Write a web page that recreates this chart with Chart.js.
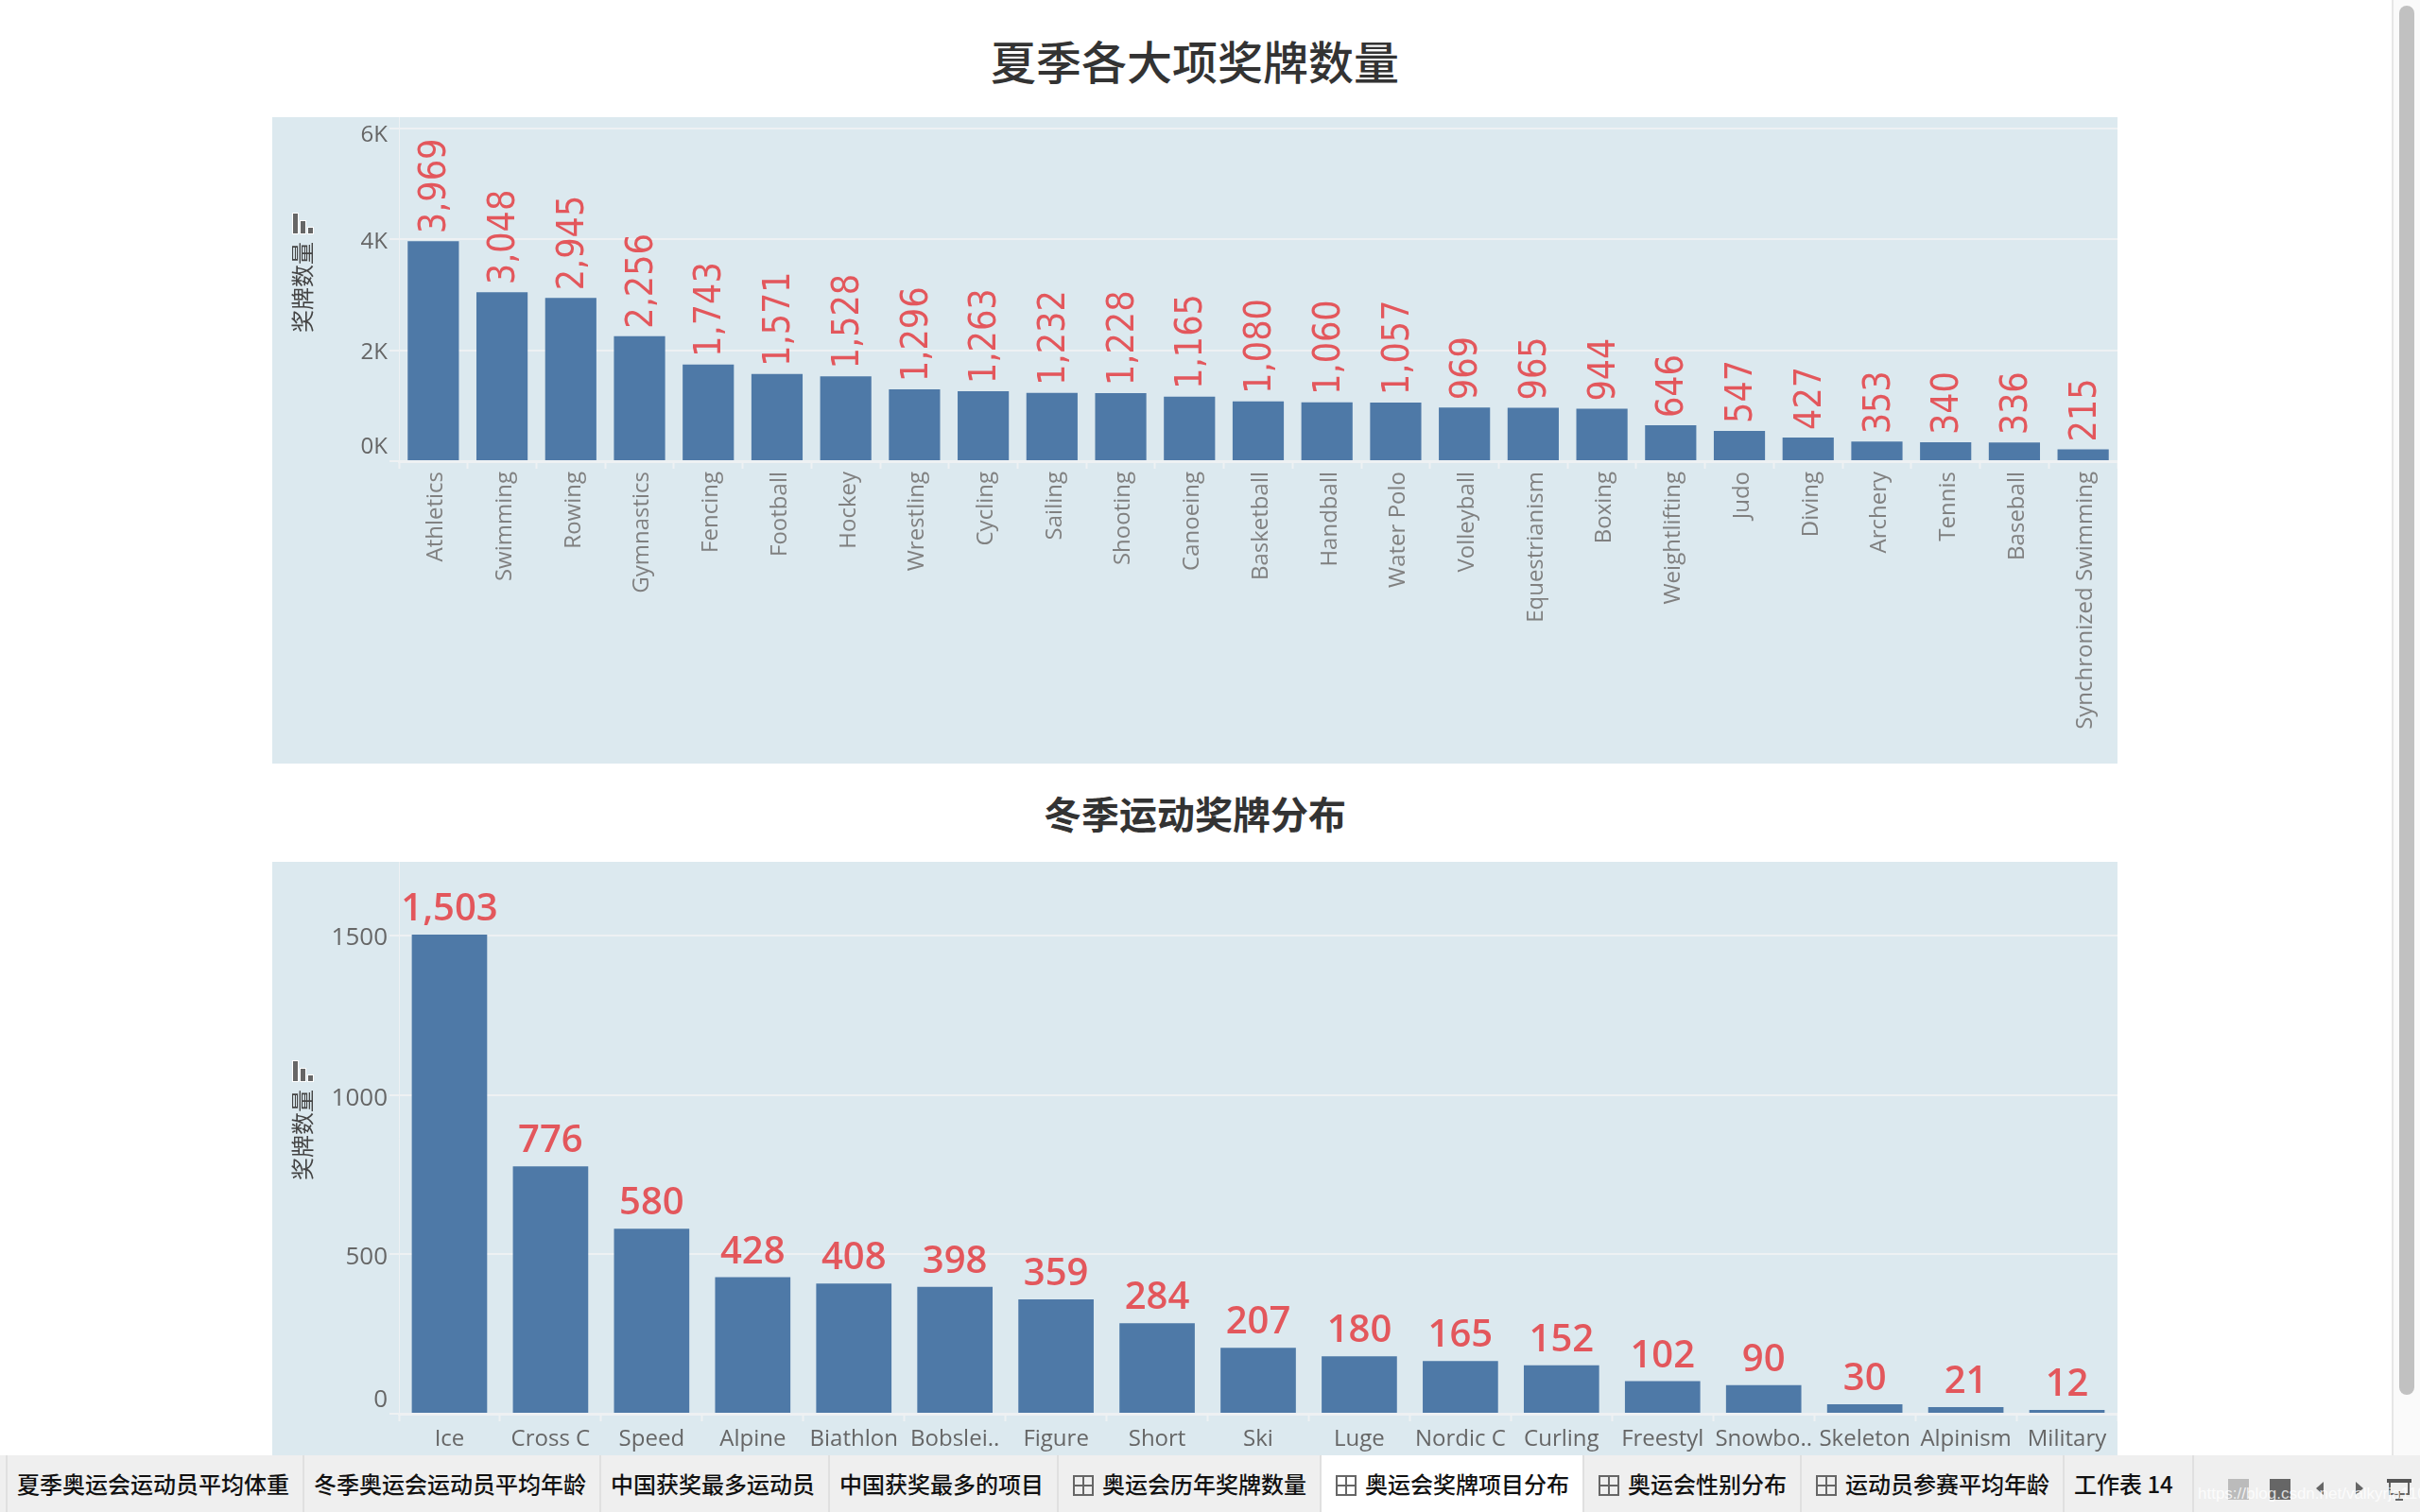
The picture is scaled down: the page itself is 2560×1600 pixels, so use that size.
<!DOCTYPE html>
<html lang="zh-CN">
<head>
<meta charset="utf-8">
<title>奥运会奖牌项目分布</title>
<script src="https://cdn.jsdelivr.net/npm/chart.js@4"></script>
<style>
  html, body { margin: 0; height: 100%; background: #fff; overflow: hidden; }
  body { position: relative; width: 2560px; height: 1600px; font-family: "Noto Sans CJK SC", "Noto Sans", sans-serif; }
  .panel { position: absolute; left: 288px; width: 1952px; background: #dce9ef; }
  .panel canvas { display: block; }
  #summer { top: 124px; height: 684px; }
  #winter { top: 912px; height: 628px; }
  h1, h2 { position: absolute; margin: 0; left: 288px; width: 1952px; text-align: center; color: #333; white-space: nowrap; }
  h1 { top: 28px; font-size: 48px; line-height: 70px; font-weight: 500; }
  h2 { top: 830px; font-size: 40px; line-height: 60px; font-weight: 700; }
  #scroll { position: absolute; left: 2530px; top: 0; width: 30px; height: 1540px; background: #fafafa; border-left: 2px solid #e6e6e6; box-sizing: border-box; }
  #thumb { position: absolute; left: 6px; top: 6px; width: 16px; height: 1470px; border-radius: 8px; background: #c1c1c1; }
  #tabs { position: absolute; left: 0; top: 1540px; width: 2560px; height: 60px; background: #efefef; }
  .tab { position: absolute; top: 0; height: 60px; line-height: 60px; box-sizing: border-box; border-left: 2px solid #e0e0e0; font-size: 24px; font-weight: 500; color: #111; white-space: nowrap; }
  .tab.active { background: #fff; }
  .tab i { display: inline-block; width: 22px; height: 22px; margin-right: 9px; vertical-align: -3px; box-sizing: border-box; border: 2px solid #666;
    background: linear-gradient(#666, #666) center/2px 100% no-repeat, linear-gradient(#666, #666) center/100% 2px no-repeat; }
  .nav { position: absolute; }
  #mark { position: absolute; left: 2325px; top: 1570px; font-size: 17px; line-height: 22px; color: rgba(255,255,255,.8); font-family: "Liberation Sans", sans-serif; white-space: nowrap; }
</style>
</head>
<body>
<h1>夏季各大项奖牌数量</h1>
<div class="panel" id="summer"><canvas id="summerChart" width="1952" height="684"></canvas></div>
<h2>冬季运动奖牌分布</h2>
<div class="panel" id="winter"><canvas id="winterChart" width="1952" height="628"></canvas></div>
<div id="scroll"><div id="thumb"></div></div>
<div id="tabs"></div>
<script>
const summerSports = ['Athletics', 'Swimming', 'Rowing', 'Gymnastics', 'Fencing', 'Football', 'Hockey', 'Wrestling', 'Cycling', 'Sailing', 'Shooting', 'Canoeing', 'Basketball', 'Handball', 'Water Polo', 'Volleyball', 'Equestrianism', 'Boxing', 'Weightlifting', 'Judo', 'Diving', 'Archery', 'Tennis', 'Baseball', 'Synchronized Swimming']
const summerMedals = [3969, 3048, 2945, 2256, 1743, 1571, 1528, 1296, 1263, 1232, 1228, 1165, 1080, 1060, 1057, 969, 965, 944, 646, 547, 427, 353, 340, 336, 215]
const summerTicks = [0, 2000, 4000, 6000]
const winterSports = ['Ice', 'Cross C', 'Speed', 'Alpine', 'Biathlon', 'Bobslei..', 'Figure', 'Short', 'Ski', 'Luge', 'Nordic C', 'Curling', 'Freestyl', 'Snowbo..', 'Skeleton', 'Alpinism', 'Military']
const winterMedals = [1503, 776, 580, 428, 408, 398, 359, 284, 207, 180, 165, 152, 102, 90, 30, 21, 12]
const winterTicks = [0, 500, 1000, 1500]
const tabNames = ['夏季奥运会运动员平均体重', '冬季奥运会运动员平均年龄', '中国获奖最多运动员', '中国获奖最多的项目', '奥运会历年奖牌数量', '奥运会奖牌项目分布', '奥运会性别分布', '运动员参赛平均年龄', '工作表 14']
const tabStarts = [6, 320, 634, 876, 1118, 1396, 1674, 1904, 2182]
const gridTabs = [4, 5, 6, 7]

const FONT = '"Open Sans", "Noto Sans", sans-serif'
const BLUE = '#4e79a7'
const RED = '#e3575c'
const GRID = '#eef1f3'

// value labels over the bars, there is no datalabels build available offline
const barLabels = {
  id: 'barLabels',
  afterDatasetsDraw(chart, args, opts) {
    const ctx = chart.ctx
    const values = chart.data.datasets[0].data
    ctx.save()
    ctx.fillStyle = RED
    ctx.font = opts.font
    chart.getDatasetMeta(0).data.forEach((bar, i) => {
      const text = values[i].toLocaleString('en-US')
      ctx.save()
      if (opts.vertical) {
        ctx.translate(bar.x + 3, bar.y - opts.gap)
        ctx.rotate(-Math.PI / 2)
        ctx.scale(0.9, 1)
        ctx.textAlign = 'left'
        ctx.textBaseline = 'middle'
      } else {
        ctx.translate(bar.x, bar.y - opts.gap)
        ctx.textAlign = 'center'
        ctx.textBaseline = 'alphabetic'
      }
      ctx.fillText(text, 0, 0)
      ctx.restore()
    })
    ctx.restore()
  }
}

// tableau pushes the first and last value label inside the pane
const edgeTicks = {
  id: 'edgeTicks',
  beforeDraw(chart, args, opts) {
    chart.scales.y.getLabelItems().forEach(item => {
      const shift = opts.shift[item.label]
      if (shift) item.options.translation[1] = item.options.translation[1] + shift
    })
    chart.scales.x.getLabelItems().forEach(item => {
      item.options.translation[0] = item.options.translation[0] + opts.xShift
    })
  }
}

// rotated axis caption with the little sort icon above it
const axisCaption = {
  id: 'axisCaption',
  afterDraw(chart, args, opts) {
    const ctx = chart.ctx
    ctx.save()
    ctx.fillStyle = '#444'
    ctx.font = '24px "Noto Sans CJK SC"'
    ctx.textAlign = 'center'
    ctx.textBaseline = 'middle'
    ctx.translate(32, opts.textY)
    ctx.rotate(-Math.PI / 2)
    ctx.fillText('奖牌数量', 0, 0)
    ctx.restore()
    const bars = [[22, 21], [30, 13], [38, 6]]
    bars.forEach(b => {
      ctx.fillStyle = '#fff'
      ctx.fillRect(b[0] - 1, opts.iconY - b[1] - 1, 7, b[1] + 2)
    })
    bars.forEach(b => {
      ctx.fillStyle = '#666'
      ctx.fillRect(b[0], opts.iconY - b[1], 5, b[1])
    })
  }
}

function makeChart(id, sports, medals, tickValues, conf) {
  return new Chart(document.getElementById(id), {
    type: 'bar',
    data: {
      labels: sports,
      datasets: [{ data: medals, backgroundColor: BLUE, categoryPercentage: 1, barPercentage: 0.745 }]
    },
    options: {
      responsive: false,
      animation: false,
      devicePixelRatio: 1,
      layout: { padding: 0 },
      plugins: {
        legend: { display: false },
        tooltip: { enabled: false },
        barLabels: conf.labels,
        edgeTicks: { shift: conf.shift, xShift: conf.xShift },
        axisCaption: conf.caption
      },
      scales: {
        x: {
          afterFit: s => {
            s.height = conf.xHeight
            s.paddingLeft = 0
            s.paddingRight = 0
          },
          grid: { offset: true, drawOnChartArea: false, tickLength: 8, tickColor: GRID, tickWidth: 2 },
          border: { color: GRID, width: 3 },
          ticks: {
            autoSkip: false,
            minRotation: conf.xRotation,
            maxRotation: conf.xRotation,
            padding: conf.xPadding,
            color: conf.xColor,
            font: { family: FONT, size: 24 }
          }
        },
        y: {
          min: 0,
          max: conf.max,
          afterBuildTicks: s => { s.ticks = tickValues.map(v => ({ value: v })) },
          afterFit: s => {
            s.width = 134
            s.paddingTop = 0
            s.paddingBottom = 0
          },
          grid: { color: GRID, lineWidth: 2, tickLength: 10 },
          border: { color: GRID, width: 1 },
          ticks: {
            padding: 2,
            color: '#666',
            font: { family: FONT, size: conf.yFontSize },
            callback: conf.tickText
          }
        }
      }
    },
    plugins: [barLabels, edgeTicks, axisCaption]
  })
}

makeChart('summerChart', summerSports, summerMedals, summerTicks, {
  max: 6205, xHeight: 320, xRotation: 90, xPadding: 3, xShift: 3, xColor: '#808080', yFontSize: 24,
  tickText: v => (v / 1000) + 'K',
  labels: { font: '39px "DejaVu Sans"', gap: 8, vertical: true },
  shift: { '6K': 7, '4K': 3, '2K': 2, '0K': -15 },
  caption: { textY: 180, iconY: 123 }
})

makeChart('winterChart', winterSports, winterMedals, winterTicks, {
  max: 1731, xHeight: 44, xRotation: 0, xPadding: 5, xShift: 0, xColor: '#666', yFontSize: 26,
  tickText: v => String(v),
  labels: { font: '600 40px "Open Sans"', gap: 15, vertical: false },
  shift: { '0': -14, '500': 3, '1000': 4, '1500': 3 },
  caption: { textY: 289, iconY: 232 }
})

// worksheet tabs along the bottom
const tabs = document.getElementById('tabs')
tabNames.forEach((name, i) => {
  const el = document.createElement('div')
  const end = i + 1 < tabStarts.length ? tabStarts[i + 1] : 2319
  el.className = 'tab' + (i === 5 ? ' active' : '')
  el.style.left = tabStarts[i] + 'px'
  el.style.width = (end - tabStarts[i]) + 'px'
  el.style.paddingLeft = (gridTabs.includes(i) ? 15 : 10) + 'px'
  el.innerHTML = (gridTabs.includes(i) ? '<i></i>' : '') + name
  tabs.appendChild(el)
})
const divider = document.createElement('div')
divider.className = 'tab'
divider.style.left = '2319px'
tabs.appendChild(divider)

const navBits = [
  'left:2357px;top:25px;width:22px;height:22px;background:#bbb',
  'left:2401px;top:25px;width:22px;height:22px;background:#666',
  'left:2450px;top:28px;width:0;height:0;border:7px solid transparent;border-left:0;border-right:8px solid #666',
  'left:2492px;top:28px;width:0;height:0;border:7px solid transparent;border-right:0;border-left:8px solid #666',
  'left:2525px;top:25px;width:26px;height:4px;background:#555',
  'left:2527px;top:29px;width:22px;height:13px;box-sizing:border-box;border:2px solid #666;border-top:0',
  'left:2537px;top:38px;width:2px;height:9px;background:#666',
  'left:2534px;top:46px;width:8px;height:2px;background:#666'
]
navBits.forEach(css => {
  const el = document.createElement('div')
  el.className = 'nav'
  el.style.cssText = css
  tabs.appendChild(el)
})
</script>
<div id="mark">https://blog.csdn.net/valkyrja110</div>
</body>
</html>
